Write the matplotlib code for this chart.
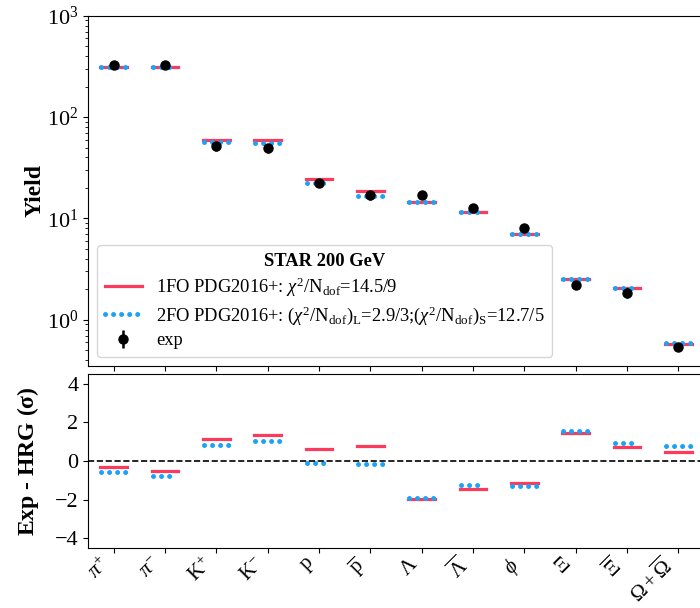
import numpy as np
import matplotlib
matplotlib.use('Agg')
import matplotlib.pyplot as plt

plt.rcParams['font.family'] = ['Liberation Serif', 'DejaVu Serif']
plt.rcParams['mathtext.fontset'] = 'custom'
plt.rcParams['mathtext.rm'] = 'Liberation Serif'
plt.rcParams['mathtext.it'] = 'Liberation Serif:italic'
plt.rcParams['mathtext.bf'] = 'Liberation Serif:bold'

labels = [r'$\pi^{+}$', r'$\pi^{-}$', r'$\mathrm{K}^{+}$', r'$\mathrm{K}^{-}$',
          r'$\mathrm{p}$', r'$\overline{\mathrm{p}}$', r'$\Lambda$', r'$\overline{\Lambda}$',
          r'$\phi$', r'$\Xi$', r'$\overline{\Xi}$', r'$\Omega+\overline{\Omega}$']

# yields
yield_exp = [327, 330, 51.6, 49.7, 22.5, 16.9, 16.9, 12.8, 8.0, 2.21, 1.86, 0.537]
yield_err = [25, 25, 5, 5, 2.0, 1.6, 1.0, 0.8, 0.6, 0.2, 0.2, 0.05]
yield_1fo = [310, 310, 60.1, 59.2, 24.7, 18.6, 14.6, 11.6, 7.1, 2.53, 2.07, 0.575]
yield_2fo = [310, 310, 57.0, 56.0, 22.2, 16.6, 14.6, 11.6, 7.1, 2.53, 2.07, 0.585]

# residuals (Exp - HRG)/sigma
dev_1fo = [-0.33, -0.53, 1.14, 1.33, 0.62, 0.79, -1.97, -1.45, -1.14, 1.45, 0.74, 0.47]
dev_2fo = [-0.55, -0.76, 0.83, 1.02, -0.10, -0.14, -1.93, -1.26, -1.31, 1.57, 0.95, 0.78]

red = '#fb3a5c'
blue = '#1ca3f5'
half = 0.26

fig = plt.figure(figsize=(7.0, 6.08), dpi=100)
ax1 = fig.add_axes([0.1257, 0.398, 0.88, 0.576])
ax2 = fig.add_axes([0.1257, 0.0987, 0.88, 0.2863], sharex=ax1)

x = np.arange(len(labels))

def draw_models(ax, v1, v2):
    for i, xi in enumerate(x):
        ax.plot([xi - half, xi + half], [v1[i], v1[i]], '-', color=red, lw=2.3,
                label=r'1FO PDG2016+: $\chi^2/\mathrm{N_{dof}}$=14.5/9' if i == 0 else None)
        ax.plot([xi - 0.24, xi + 0.24], [v2[i], v2[i]], color=blue, lw=3.6,
                linestyle=(0, (0.01, 1.6)), dash_capstyle='round',
                label=r'2FO PDG2016+: $(\chi^2/\mathrm{N_{dof}})_\mathrm{L}$=2.9/3;$(\chi^2/\mathrm{N_{dof}})_\mathrm{S}$=12.7/5' if i == 0 else None)

draw_models(ax1, yield_1fo, yield_2fo)
ax1.errorbar(x, yield_exp, yerr=yield_err, fmt='o', color='black', markersize=6.5,
             elinewidth=1.8, label='exp', zorder=5)
ax1.set_yscale('log')
ax1.set_ylim(0.35, 1000)
ax1.set_xlim(-0.5, 11.5)
ax1.set_ylabel('Yield', fontsize=17, fontweight='bold', labelpad=1)
ax1.tick_params(axis='y', labelsize=16)
ax1.tick_params(axis='x', labelbottom=False)
leg = ax1.legend(loc='lower left', fontsize=13.3, title='STAR 200 GeV',
                 title_fontproperties={'weight': 'bold', 'size': 13.3},
                 labelspacing=0.3, bbox_to_anchor=(0.0, 0.0))

draw_models(ax2, dev_1fo, dev_2fo)
ax2.axhline(0, color='black', lw=1.2, linestyle='--')
ax2.set_ylim(-4.5, 4.5)
ax2.set_yticks([-4, -2, 0, 2, 4])
ax2.set_ylabel(r'Exp - HRG ($\mathbf{\sigma}$)', fontsize=17, fontweight='bold', labelpad=10)
ax2.tick_params(axis='y', labelsize=16)
ax2.tick_params(axis='x', pad=1)
ax2.set_xticks(x)
ax2.set_xticklabels(labels, rotation=45, ha='right', fontsize=15)

fig.savefig('out.png', dpi=100)
